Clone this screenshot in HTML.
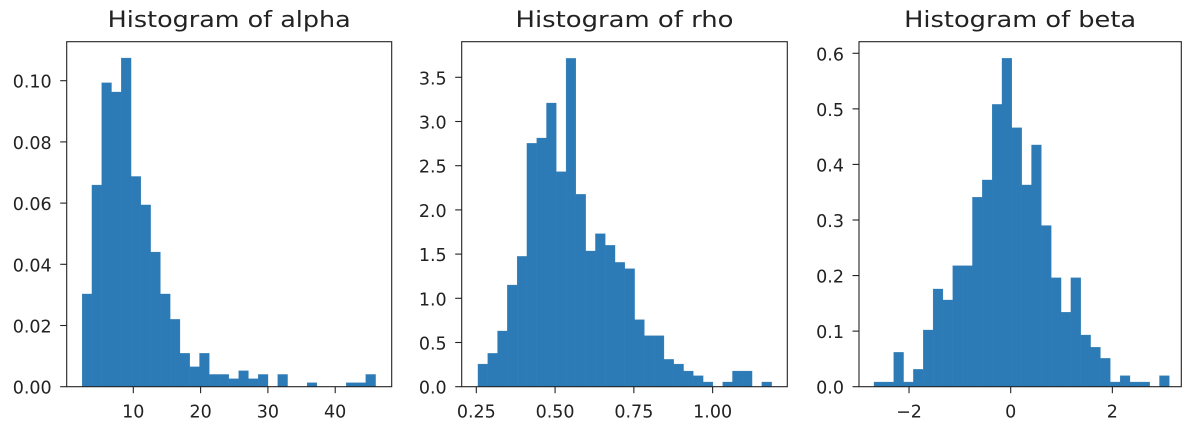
<!DOCTYPE html>
<html><head><meta charset="utf-8"><style>
body{margin:0;background:#fff;}
svg{display:block;font-family:"DejaVu Sans","Liberation Sans",sans-serif;}
</style></head><body>
<svg id="fig" width="1193" height="430"></svg>
<script>
// alpha
const alphaRange=[2.4,46.0];
const alphaDensity=[0.0303,0.0659,0.0993,0.0963,0.1074,0.0687,0.0594,0.0440,0.0303,0.0220,0.0109,0.0065,0.0109,0.0040,0.0040,0.0026,0.0052,0.0026,0.0040,0,0.0040,0,0,0.0013,0,0,0,0.0013,0.0013,0.0040];
const alphaXTicks=[10,20,30,40];
const alphaYTicks=["0.00","0.02","0.04","0.06","0.08","0.10"];
// rho
const rhoRange=[0.2553,1.1873];
const rhoDensity=[0.256,0.377,0.630,1.150,1.474,2.753,2.813,3.209,2.432,3.714,2.176,1.535,1.731,1.599,1.406,1.335,0.758,0.577,0.577,0.309,0.256,0.177,0.124,0.053,0,0.053,0.177,0.177,0,0.053];
const rhoXTicks=["0.25","0.50","0.75","1.00"];
const rhoYTicks=["0.0","0.5","1.0","1.5","2.0","2.5","3.0","3.5"];
// beta
const betaRange=[-2.689,3.121];
const betaDensity=[0.0084,0.0084,0.0618,0.0084,0.0312,0.102,0.1758,0.156,0.2178,0.2178,0.341,0.372,0.508,0.591,0.466,0.363,0.435,0.290,0.196,0.134,0.196,0.093,0.071,0.051,0.0084,0.0198,0.0084,0.0084,0,0.0198];
const betaXTicks=[-2,0,2];
const betaYTicks=["0.0","0.1","0.2","0.3","0.4","0.5","0.6"];

const NS="http://www.w3.org/2000/svg";
const svg=document.getElementById('fig');
function mk(tag,attrs,parent){const e=document.createElementNS(NS,tag);for(const k in attrs)e.setAttribute(k,attrs[k]);(parent||svg).appendChild(e);return e;}

const panels=[
 {name:'alpha',title:'Histogram of alpha',tw:243,range:alphaRange,dens:alphaDensity,xt:alphaXTicks,yt:alphaYTicks,
  L:66.7,R:391.7,x0:10,px0:133.3,kx:6.73,ky:3060},
 {name:'rho',title:'Histogram of rho',tw:218,range:rhoRange,dens:rhoDensity,xt:rhoXTicks,yt:rhoYTicks,
  L:461.7,R:787.3,x0:0.25,px0:476.3,kx:315.1,ky:88.4},
 {name:'beta',title:'Histogram of beta',tw:232,range:betaRange,dens:betaDensity,xt:betaXTicks,yt:betaYTicks,
  L:859,R:1181.3,x0:0,px0:1010.7,kx:50.83,ky:555.7}
];
const T=41.7,B=386.7;
panels.forEach(p=>{
  const g=mk('g',{});
  
  
  const xs=v=>p.px0+(v-p.x0)*p.kx;
  const ys=v=>B-v*p.ky;
  const n=p.dens.length,w=(p.range[1]-p.range[0])/n;
  p.dens.forEach((d,i)=>{
    if(d<=0)return;
    const a=xs(p.range[0]+i*w),b=xs(p.range[0]+(i+1)*w);
    const r=mk('rect',{x:a,y:ys(d),width:b-a,height:B-ys(d),fill:'#2c7bb6',stroke:'#2c7bb6','stroke-width':0.3},g);
    
    
  });
  const fr=mk('rect',{x:p.L,y:T,width:p.R-p.L,height:B-T,fill:'none',stroke:'#222','stroke-width':1.1},g);
  
  
  p.xt.forEach(t=>{
    const x=xs(parseFloat(t));
    mk('line',{x1:x,x2:x,y1:B,y2:B+6.5,stroke:'#222','stroke-width':1.1},g);
    const tx=mk('text',{x:x,y:B+31,'text-anchor':'middle','font-size':17.5,fill:'#222'},g);
    tx.textContent=(typeof t==='number'&&t<0)?'\u2212'+Math.abs(t):t;
    
    
  });
  p.yt.forEach(t=>{
    const y=ys(parseFloat(t));
    mk('line',{x1:p.L-6.5,x2:p.L,y1:y,y2:y,stroke:'#222','stroke-width':1.1},g);
    const tx=mk('text',{x:p.L-15,y:y+7,'text-anchor':'end','font-size':17.5,fill:'#222'},g);
    tx.textContent=t;
    
    
  });
  const ti=mk('text',{x:(p.L+p.R)/2,y:27,'text-anchor':'middle','font-size':22,fill:'#222',textLength:p.tw,lengthAdjust:'spacingAndGlyphs'},g);
  ti.textContent=p.title;
  
  
});
</script>
</body></html>
